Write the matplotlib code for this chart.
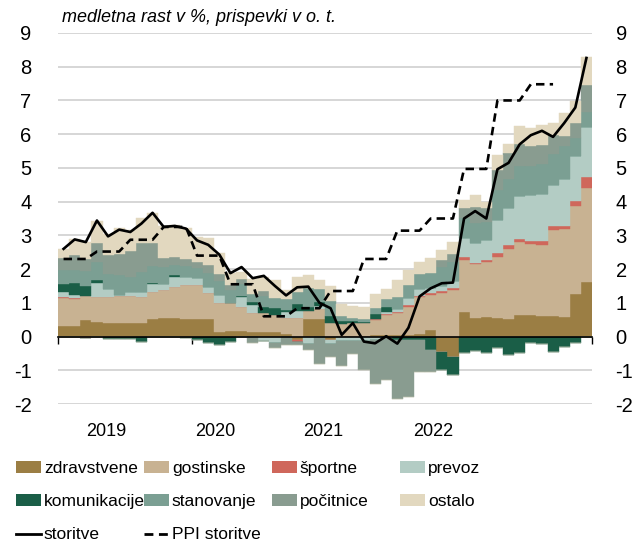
import numpy as np
import matplotlib
matplotlib.use("Agg")
import matplotlib.pyplot as plt
from matplotlib.patches import Patch
from matplotlib.lines import Line2D

plt.rcParams['font.family'] = ['Liberation Sans Narrow', 'Liberation Sans', 'DejaVu Sans']
plt.rcParams['axes.unicode_minus'] = False

# monthly data, 2019-2022 (48 months)
years = ['2019', '2020', '2021', '2022']

zdravstvene = [0.32, 0.32, 0.48, 0.44, 0.39, 0.39, 0.39, 0.39, 0.51, 0.55, 0.55, 0.53,
               0.51, 0.51, 0.14, 0.16, 0.16, 0.13, 0.13, 0.13, 0.07, -0.10, 0.51, 0.51,
               -0.10, 0.03, 0.03, 0.03, 0.05, 0.05, 0.05, 0.05, 0.08, 0.20, -0.45, -0.60,
               0.74, 0.54, 0.57, 0.54, 0.52, 0.64, 0.64, 0.61, 0.61, 0.59, 1.26, 1.62]
gostinske = [0.82, 0.78, 0.71, 0.73, 0.78, 0.80, 0.80, 0.78, 0.81, 0.83, 0.91, 0.99,
             1.02, 0.77, 0.85, 0.83, 0.71, 0.58, 0.56, 0.51, 0.47, 0.54, 0.25, 0.30,
             0.40, 0.35, 0.37, 0.37, 0.44, 0.60, 0.65, 0.84, 1.08, 1.03, 1.28, 1.38,
             1.54, 1.61, 1.63, 1.82, 2.07, 2.15, 2.10, 2.11, 2.54, 2.60, 2.62, 2.79]
sportne = [0.02, 0.03, -0.03, 0, 0, 0, 0, 0, 0, 0, 0.02, 0.02,
           0, 0, 0, 0, 0.02, 0, 0, 0, 0, -0.05, 0, 0,
           0, 0, 0, 0, 0.02, 0.02, 0.03, 0.04, 0.05, 0.05, 0.08, 0.07,
           0.08, 0.03, 0.06, 0.12, 0.13, 0.10, 0.10, 0.12, 0.12, 0.08, 0.13, 0.32]
prevoz = [0.15, 0.10, 0, 0.42, 0.24, 0.04, 0.12, 0.14, 0.23, 0.17, 0.29, 0.24,
          0.20, 0.20, 0.25, 0, 0.27, 0.23, -0.13, -0.18, 0.20, 0.22, -0.22, 0.10,
          -0.12, -0.12, -0.12, -0.12, -0.10, 0.05, 0.10, 0.20, 0.20, 0.15, 0.15, 0.20,
          0.55, 0.60, 0.60, 0.97, 1.10, 1.27, 1.37, 1.38, 1.23, 1.39, 1.34, 1.47]
komunikacije = [0.26, 0.35, 0.30, 0.10, -0.06, -0.06, -0.06, -0.17, 0.05, 0, 0.06, -0.05,
                -0.10, -0.20, -0.25, -0.15, 0.05, 0.08, 0.20, 0.20, 0.05, 0.20, 0.12, 0.10,
                0.20, 0.08, 0.05, 0.02, 0.15, 0.15, -0.10, -0.10, -0.10, -0.40, -0.55, -0.55,
                -0.50, -0.42, -0.48, -0.35, -0.55, -0.48, -0.20, -0.22, -0.45, -0.30, -0.20, 0]
stanovanje = [0.40, 0.40, 0.45, 0.53, 0.45, 0.60, 0.46, 0.60, 0.50, 0.50, 0.30, 0.30,
              0.30, 0.40, 0.40, 0.40, 0.35, 0.25, 0.30, 0.30, 0.31, 0.35, 0.55, 0.40,
              0.45, 0.15, 0.10, 0.10, 0.20, 0.25, 0.35, 0.40, 0.45, 0.45, 0.55, 0.55,
              0.60, 0.60, 0.55, 0.90, 0.85, 0.89, 0.84, 0.90, 0.90, 1.00, 0.55, 0.45]
pocitnice = [0.37, 0.43, 0.37, 0.54, 0.55, 0.62, 0.76, 0.86, 0.67, 0.28, 0.22, 0.22,
             0.17, 0.25, 0.20, 0.14, 0.15, -0.20, 0.15, -0.15, -0.25, -0.10, -0.18, -0.82,
             -0.40, -0.75, -0.40, -0.88, -1.30, -1.30, -1.75, -1.70, -0.95, -0.65, 0.20, 0.25,
             0.30, 0.45, 0.40, 0.60, 0.78, 0.65, 0.60, 0.55, 0.57, 0.30, 0.44, 0.80]
ostalo = [0.27, 0.48, 0.50, 0.67, 0.62, 0.78, 0.63, 0.75, 0.90, 0.95, 0.96, 0.92,
          0.75, 0.79, 0.64, 0.35, 0.20, 0.45, 0.44, 0.55, 0.28, 0.45, 0.40, 0.27,
          0.45, 0.35, 0.35, 0.35, 0.40, 0.30, 0.50, 0.45, 0.35, 0.45, 0.30, 0.35,
          0.25, 0.37, 0.19, 0.42, 0.25, 0.54, 0.54, 0.61, 0.35, 0.67, 0.65, 0.85]

storitve = [2.60, 2.88, 2.80, 3.44, 2.97, 3.17, 3.10, 3.35, 3.67, 3.25, 3.28, 3.20,
            2.85, 2.72, 2.43, 1.88, 2.06, 1.73, 1.80, 1.50, 1.22, 1.46, 1.48, 1.00,
            0.84, 0.05, 0.40, -0.15, -0.20, 0.01, -0.21, 0.26, 1.19, 1.43, 1.58, 1.60,
            3.50, 3.72, 3.50, 4.96, 5.15, 5.70, 5.97, 6.10, 5.92, 6.33, 6.79, 8.26]
ppi_storitve = [2.30, 2.30, 2.30, 2.52, 2.52, 2.52, 2.87, 2.87, 2.87, 3.25, 3.25, 3.25,
                2.40, 2.40, 2.40, 1.55, 1.55, 1.55, 0.60, 0.60, 0.60, 0.84, 0.84, 0.84,
                1.35, 1.35, 1.35, 2.30, 2.30, 2.30, 3.14, 3.14, 3.14, 3.50, 3.50, 3.50,
                4.97, 4.97, 4.97, 7.00, 7.00, 7.00, 7.48, 7.48, 7.48, np.nan, np.nan, np.nan]

series = [('zdravstvene', zdravstvene, '#9B7E44'),
          ('gostinske', gostinske, '#C8B292'),
          ('športne', sportne, '#CF675B'),
          ('prevoz', prevoz, '#B3CCC4'),
          ('komunikacije', komunikacije, '#1A5E47'),
          ('stanovanje', stanovanje, '#7B9F93'),
          ('počitnice', pocitnice, '#899C90'),
          ('ostalo', ostalo, '#E2D8BF')]

fig = plt.figure(figsize=(6.4, 5.53), dpi=100)
ax = fig.add_axes([58/640, 1-404/553, 534/640, 371/553])

x = np.arange(len(storitve))
pos_base = np.zeros(len(x))
neg_base = np.zeros(len(x))
for name, vals, col in series:
    v = np.array(vals, dtype=float)
    pos = np.where(v > 0, v, 0)
    neg = np.where(v < 0, v, 0)
    ax.bar(x, pos, bottom=pos_base, width=1.0, color=col, edgecolor=col, linewidth=0.3, zorder=2)
    ax.bar(x, neg, bottom=neg_base, width=1.0, color=col, edgecolor=col, linewidth=0.3, zorder=2)
    pos_base += pos
    neg_base += neg

ax.plot(x, storitve, color='black', lw=1.9, zorder=4)
ax.plot(x, ppi_storitve, color='black', lw=1.9, dashes=(3.2, 2.0), zorder=4)

ax.set_xlim(-0.5, len(x) - 0.5)
ax.set_ylim(-2, 9)
ax.set_yticks(range(-2, 10))
ax.grid(axis='y', color='#CBCBCB', lw=1.1, zorder=0)
ax.set_axisbelow(True)
for s in ['top', 'right', 'left']:
    ax.spines[s].set_visible(False)
ax.spines['bottom'].set_position(('data', 0))
ax.spines['bottom'].set_color('black')
ax.spines['bottom'].set_linewidth(1.2)
ax.spines['bottom'].set_zorder(3)

ax.set_xticks(np.arange(-0.5, len(x), 12))
ax.set_xticklabels([])
ax.tick_params(axis='x', direction='out', length=5, width=1, color='black')
ax.tick_params(axis='y', length=0, pad=19, labelsize=14.5)

ax2 = ax.twinx()
ax2.set_ylim(-2, 9)
ax2.set_yticks(range(-2, 10))
ax2.tick_params(axis='y', length=0, pad=17, labelsize=14.5)
for s in ax2.spines.values():
    s.set_visible(False)

label_pos = [3.8, 13.6, 23.3, 33.2]
for xp, yr in zip(label_pos, years):
    ax.text(xp, -0.075, yr, transform=ax.get_xaxis_transform(), ha='center', va='center', fontsize=13)

fig.text(62/640, 1-17/553, 'medletna rast v %, prispevki v o. t.', style='italic',
         fontsize=13, va='center', ha='left')

handles = {name: Patch(facecolor=col, edgecolor='none') for name, vals, col in series}
handles['storitve'] = Line2D([], [], color='black', lw=2)
handles['PPI storitve'] = Line2D([], [], color='black', lw=2, dashes=(3.2, 2.0))
columns = [['zdravstvene', 'komunikacije', 'storitve'],
           ['gostinske', 'stanovanje', 'PPI storitve'],
           ['športne', 'počitnice'],
           ['prevoz', 'ostalo']]
col_x = [16/640, 144/640, 272/640, 400/640]
for cx, names in zip(col_x, columns):
    fig.legend([handles[n] for n in names], names, loc='upper left',
               bbox_to_anchor=(cx, 1-461/553), frameon=False, fontsize=12.5,
               handlelength=1.45, handleheight=0.65, handletextpad=0.15,
               labelspacing=1.05, borderpad=0, borderaxespad=0)

fig.savefig('out.png', dpi=100)
